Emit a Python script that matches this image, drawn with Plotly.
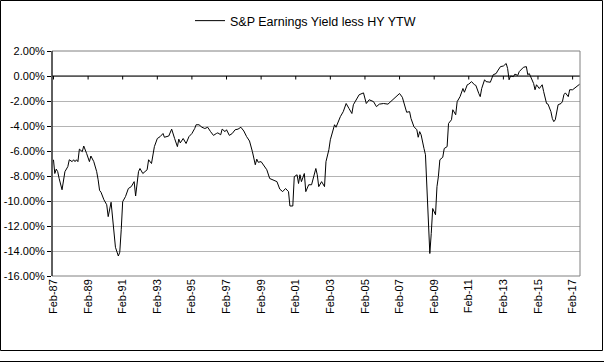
import plotly.graph_objects as go

# ---- data (monthly, offsets in months from Feb-1987) ----
month_offset = [0,1,2,3,4,6,8,9,10,11,13,14,15,16,17,18,20,21,22,23,25,26,28,30,31,32,33,35,37,38,
    40,41,42,43,45,46,47,48,50,52,54,56,57,59,60,62,65,66,68,70,72,74,76,77,80,82,84,86,87,88,
    90,92,94,96,98,99,101,103,105,107,109,111,113,114,116,117,119,120,122,124,126,128,130,132,134,136,138,140,141,142,
    144,145,147,148,150,152,155,157,159,161,163,164,166,167,169,170,171,172,174,175,177,179,180,182,183,184,186,188,189,191,
    192,194,195,196,198,199,201,202,203,205,207,208,210,212,214,215,217,219,222,224,226,229,232,235,237,240,242,243,245,247,
    248,250,252,253,254,255,256,257,258,261,262,263,265,266,267,268,270,271,273,274,276,277,279,280,282,284,285,287,288,290,
    292,293,295,296,297,299,300,303,305,307,308,310,312,313,314,315,316,317,319,320,322,323,325,326,328,329,330,332,333,334,
    335,337,339,340,341,342,343,345,346,347,348,349,350,352,353,354,355,357,358,360,362,363,365]
spread_pct = [-6.7,-7.8,-7.45,-7.65,-8.2,-9.1,-7.65,-7.4,-7.25,-6.7,-6.85,-6.7,-6.85,-6.7,-6.85,-5.85,-6.05,-5.6,-5.85,-6.2,
    -6.85,-6.4,-6.85,-7.65,-8.3,-9.15,-9.3,-9.9,-10.3,-11.25,-10.1,-11.1,-12.6,-13.7,-14.4,-14.1,-12.3,-10.05,-9.65,-9.0,
    -8.85,-8.45,-9.6,-7.65,-7.4,-7.8,-7.5,-6.7,-7.0,-5.65,-5.0,-4.85,-4.6,-4.9,-4.8,-4.25,-5.0,-5.65,-5.05,-5.35,
    -5.0,-5.4,-4.85,-4.6,-4.2,-3.9,-3.9,-4.1,-4.2,-4.1,-4.45,-4.75,-4.6,-4.55,-4.7,-4.25,-4.45,-4.3,-4.75,-4.6,
    -4.3,-4.25,-4.1,-4.4,-4.85,-5.2,-6.05,-7.1,-6.65,-6.9,-6.85,-7.0,-7.25,-7.5,-8.2,-8.3,-8.45,-9.05,-9.25,-9.0,
    -9.25,-10.4,-10.4,-8.05,-7.9,-8.6,-7.9,-8.45,-7.8,-9.25,-8.7,-8.7,-8.3,-7.4,-7.9,-8.85,-8.45,-8.85,-6.85,-5.9,
    -5.1,-4.3,-3.9,-4.1,-3.5,-3.25,-2.85,-2.45,-2.2,-2.6,-3.0,-2.3,-1.9,-1.5,-1.4,-1.35,-2.2,-1.9,-2.05,-2.45,
    -2.25,-2.2,-2.25,-1.9,-1.75,-1.4,-1.7,-2.05,-2.9,-2.85,-3.4,-4.05,-4.3,-4.9,-4.45,-4.7,-5.4,-5.8,-6.3,-14.2,
    -12.6,-10.6,-11.1,-8.85,-8.05,-6.7,-6.5,-5.8,-5.65,-3.8,-3.5,-2.7,-3.1,-2.05,-1.65,-1.0,-1.3,-0.7,-0.65,-0.45,
    -0.7,-0.75,-1.4,-1.65,-1.0,-0.3,-0.45,-0.5,0.1,0.2,0.4,0.75,0.8,0.9,1.0,0.6,-0.3,0.0,-0.05,0.15,
    0.05,0.35,0.6,0.7,0.75,0.1,0.2,-0.3,-0.6,-1.1,-0.7,-1.0,-0.7,-1.25,-1.65,-2.2,-2.25,-2.85,-3.4,-3.65,
    -3.5,-2.85,-2.3,-2.2,-2.05,-1.5,-1.35,-1.65,-1.1,-1.1,-0.9,-0.85,-0.65]

series_name = "S&P Earnings Yield less HY YTW"
x_tick_years = list(range(1987, 2018, 2))
x_tick_labels = ["Feb-%02d" % (y % 100) for y in x_tick_years]
y_tick_vals = [2, 0, -2, -4, -6, -8, -10, -12, -14, -16]
y_tick_labels = ["2.00%", "0.00%", "-2.00%", "-4.00%", "-6.00%", "-8.00%",
                 "-10.00%", "-12.00%", "-14.00%", "-16.00%"]


def month_date(m):
    t = 1987 * 12 + 1 + m
    return "%d-%02d-01" % (t // 12, t % 12 + 1)


dates = [month_date(m) for m in month_offset]
tick_dates = ["%d-02-01" % y for y in x_tick_years]

# ---- layout geometry (pixels) ----
W, H = 604, 363
L, R, T, B = 52, 580, 51, 276


def px(x):
    return (x - L) / (R - L)


def py(y):
    return (B - y) / (B - T)


FONT = "Liberation Sans, Arial, sans-serif"

fig = go.Figure()
fig.add_trace(go.Scatter(x=dates, y=spread_pct, mode="lines", name=series_name,
                         line=dict(color="#000000", width=1), showlegend=True))

shapes = []
# zero line (category axis crossing at 0)
shapes.append(dict(type="line", xref="paper", yref="y", x0=0, x1=1, y0=0, y1=0,
                   line=dict(color="#000000", width=1)))
# tick marks on zero line
for d in tick_dates:
    shapes.append(dict(type="line", xref="x", yref="y", x0=d, x1=d, y0=0, y1=-0.28,
                       line=dict(color="#000000", width=1)))
# plot area border (gray)
shapes.append(dict(type="rect", xref="paper", yref="paper", x0=0, x1=1, y0=0, y1=1,
                   line=dict(color="#808080", width=1)))
# left axis line
shapes.append(dict(type="line", xref="paper", yref="paper", x0=0, x1=0, y0=0, y1=1,
                   line=dict(color="#000000", width=1)))
# chart outer border
shapes.append(dict(type="rect", xref="paper", yref="paper",
                   x0=px(0.5), x1=px(602.5), y0=py(350.5), y1=py(0.5),
                   line=dict(color="#000000", width=1)))
shapes.append(dict(type="line", xref="paper", yref="paper",
                   x0=px(0), x1=px(604), y0=py(361.5), y1=py(361.5),
                   line=dict(color="#000000", width=1)))

fig.update_layout(
    width=W, height=H,
    margin=dict(l=L, r=W - R, t=T, b=H - B, pad=0, autoexpand=False),
    paper_bgcolor="white", plot_bgcolor="white",
    font=dict(family=FONT, size=11, color="#000000"),
    showlegend=True,
    legend=dict(orientation="h", x=px(190), y=py(21), xanchor="left", yanchor="middle",
                font=dict(size=12.5, family=FONT, color="#000000"),
                bgcolor="rgba(0,0,0,0)", borderwidth=0),
    xaxis=dict(type="date", range=["1987-01-01", "2017-07-07"],
               tickmode="array", tickvals=tick_dates, ticktext=x_tick_labels,
               tickangle=-90, ticks="", showgrid=False, zeroline=False, showline=False,
               tickfont=dict(size=11, family=FONT, color="#000000")),
    yaxis=dict(range=[-16, 2], tickmode="array", tickvals=y_tick_vals, ticktext=y_tick_labels,
               ticks="outside", ticklen=4, tickcolor="#000000", tickwidth=1,
               showgrid=True, gridcolor="#b4b4b4", gridwidth=1, zeroline=False,
               showline=False, tickfont=dict(size=11, family=FONT, color="#000000")),
    shapes=shapes,
)

fig.write_html("out.html", config={"displayModeBar": False},
               post_script="document.body.style.margin='0';document.body.style.overflow='hidden';")
